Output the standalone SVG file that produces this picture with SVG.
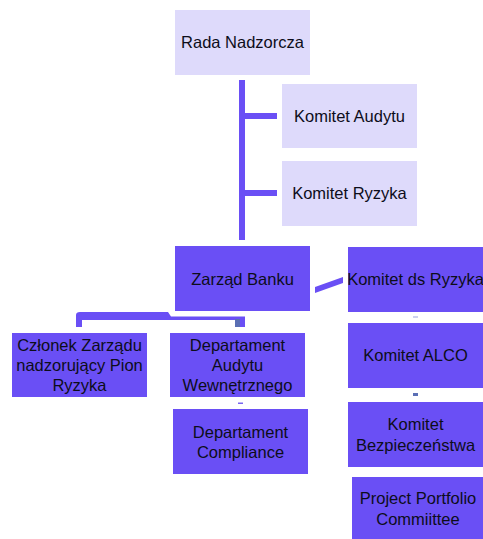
<svg xmlns="http://www.w3.org/2000/svg" width="483" height="539" viewBox="0 0 483 539">
<style>
.light{fill:#dedafb}
.dark{fill:#6a4ff5}
.t{font-family:"Liberation Sans",Arial,sans-serif;font-size:16.5px;fill:#0d0d1a;text-anchor:middle;dominant-baseline:central}
.ln{fill:#6a4ff5}
</style>
<rect width="483" height="539" fill="#fff"/>
<g id="connectors">
<rect class="ln" x="239" y="80" width="6" height="160"/>
<rect class="ln" x="245" y="113" width="32" height="6"/>
<rect class="ln" x="245" y="190" width="32" height="6"/>
<polygon class="ln" points="315,287 343,277 343,283 315,293"/>
<path class="ln" d="M76,327 V315 Q76,312 80,312 H168 L171,316.5 H245 V327 H235 V320 H82 V327 Z"/>
<rect x="235" y="319" width="5" height="8" fill="#5a6fb3"/>
<rect x="413" y="316.5" width="5" height="1" fill="#9aa4e0"/>
<rect x="413" y="393" width="5" height="3" fill="#5b6fb5"/>
<rect x="238" y="402.5" width="5" height="1.5" fill="#7a66f0"/>
</g>
<g id="rada"><rect class="light" x="175" y="10" width="135" height="65"/><text class="t" x="242.5" y="42">Rada Nadzorcza</text></g>
<g id="audyt"><rect class="light" x="282" y="84" width="135" height="64"/><text class="t" x="349.5" y="116">Komitet Audytu</text></g>
<g id="ryzyka"><rect class="light" x="282" y="161" width="135" height="65"/><text class="t" x="349.5" y="193">Komitet Ryzyka</text></g>
<g id="zarzad"><rect class="dark" x="175" y="246" width="135" height="65"/><text class="t" x="242.5" y="279">Zarząd Banku</text></g>
<g id="dsryzyka"><rect class="dark" x="348" y="247" width="135" height="65"/><text class="t" x="415.5" y="279">Komitet ds Ryzyka</text></g>
<g id="czlonek"><rect class="dark" x="12" y="333" width="135" height="64"/><text class="t" x="79.5" y="345">Członek Zarządu</text><text class="t" x="79.5" y="365">nadzorujący Pion</text><text class="t" x="79.5" y="385">Ryzyka</text></g>
<g id="dau"><rect class="dark" x="170" y="333" width="135" height="64"/><text class="t" x="237.5" y="345">Departament</text><text class="t" x="237.5" y="365">Audytu</text><text class="t" x="237.5" y="385">Wewnętrznego</text></g>
<g id="alco"><rect class="dark" x="348" y="323" width="135" height="65"/><text class="t" x="415.5" y="355">Komitet ALCO</text></g>
<g id="compliance"><rect class="dark" x="173" y="409" width="135" height="65"/><text class="t" x="240.5" y="432">Departament</text><text class="t" x="240.5" y="452">Compliance</text></g>
<g id="bezp"><rect class="dark" x="348" y="402" width="135" height="65"/><text class="t" x="415.5" y="424">Komitet</text><text class="t" x="415.5" y="445">Bezpieczeństwa</text></g>
<g id="ppc"><rect class="dark" x="352" y="477" width="135" height="62"/><text class="t" x="418" y="498">Project Portfolio</text><text class="t" x="418" y="519">Commiittee</text></g>
</svg>
